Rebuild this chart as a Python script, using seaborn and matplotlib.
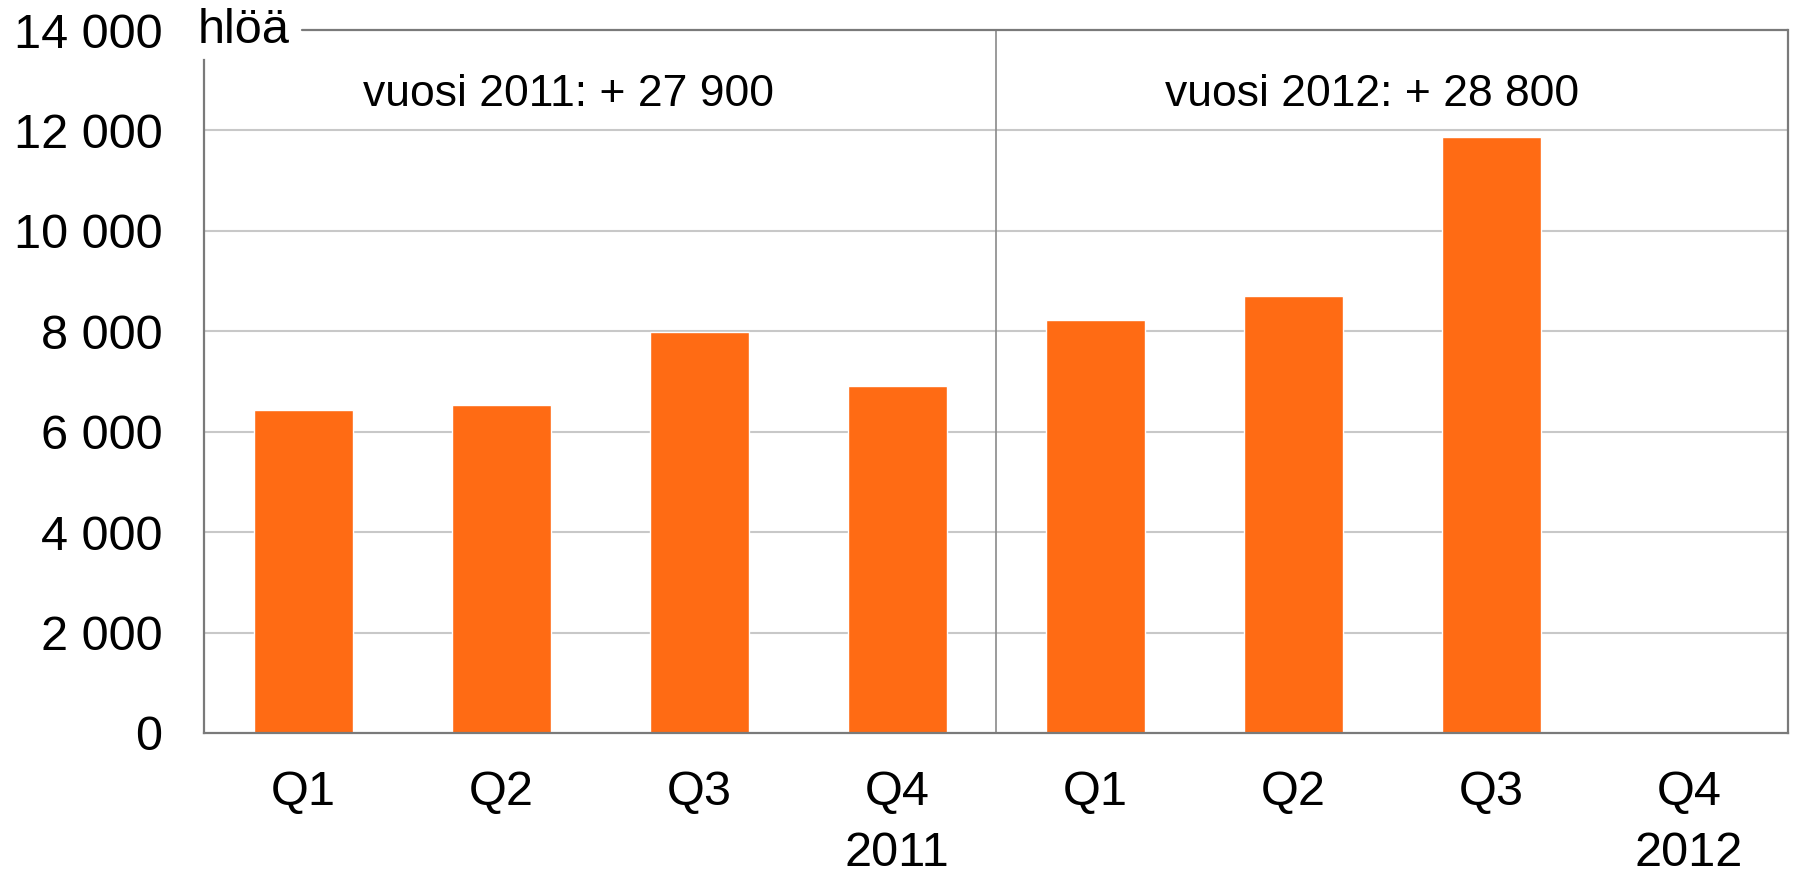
import numpy as np
import pandas as pd
import matplotlib
matplotlib.use("Agg")
import matplotlib.pyplot as plt
import seaborn as sns

# Quarterly change in employed persons (hlöä), 2011–2012
years = ["2011", "2011", "2011", "2011", "2012", "2012", "2012", "2012"]
quarters = ["Q1", "Q2", "Q3", "Q4", "Q1", "Q2", "Q3", "Q4"]
values = [6440, 6540, 7980, 6920, 8220, 8700, 11870, np.nan]
tick_labels = ["Q1", "Q2", "Q3", "Q4\n2011", "Q1", "Q2", "Q3", "Q4\n2012"]
year_notes = ["vuosi 2011: + 27 900", "vuosi 2012: + 28 800"]
y_ticks = [0, 2000, 4000, 6000, 8000, 10000, 12000, 14000]
unit_label = "hlöä"

sns.set_theme(style="white")
plt.rcParams["font.family"] = ["Liberation Sans", "DejaVu Sans"]

keys = [f"{y} {q}" for y, q in zip(years, quarters)]
df = pd.DataFrame({"key": keys, "value": values})

W, H = 1796, 873
fig = plt.figure(figsize=(W / 100, H / 100), dpi=100)
ax = fig.add_axes([204 / W, 1 - 733 / H, (1788 - 204) / W, (733 - 30) / H])

sns.barplot(data=df, x="key", y="value", order=keys, color="#FF6B14",
            saturation=1, width=0.5, ax=ax, zorder=3)

ax.set_xlim(-0.5, len(keys) - 0.5)
ax.set_ylim(0, 14000)
ax.set_xlabel("")
ax.set_ylabel("")

def fmt(v):
    return f"{int(v):,}".replace(",", " ")

ax.set_yticks(y_ticks)
ax.set_yticklabels([fmt(v) for v in y_ticks])
ax.set_xticks(range(len(keys)))
ax.set_xticklabels(tick_labels, linespacing=1.45)
ax.tick_params(axis="y", length=0, pad=30, labelsize=35, labelcolor="black")
ax.tick_params(axis="x", length=0, pad=27, labelsize=35, labelcolor="black")

# gridlines
for v in y_ticks[1:-1]:
    ax.axhline(v, color="#c8c8c8", lw=1.5, zorder=1)

frame = "#7a7a7a"
for side in ["left", "bottom", "right"]:
    ax.spines[side].set_visible(True)
    ax.spines[side].set_color(frame)
    ax.spines[side].set_linewidth(1.6)
ax.spines["top"].set_visible(False)
ax.spines["left"].set_bounds(0, 13400)
ax.spines["bottom"].set_zorder(5)
# top frame line, interrupted by the unit label
ax.axhline(14000, xmin=(302 - 204) / (1788 - 204), xmax=1, color=frame,
           lw=1.6, clip_on=False, zorder=5)

# divider between the years
ax.axvline(3.5, color="#8a8a8a", lw=1.2, zorder=2)

ax.text(-0.5 - (204 - 198) / 198, 13990, unit_label, fontsize=35,
        ha="left", va="center", color="black", clip_on=False)

ax.text(1.34, 12720, year_notes[0], fontsize=32, ha="center", va="center",
        color="black")
ax.text(5.4, 12720, year_notes[1], fontsize=32, ha="center", va="center",
        color="black")

fig.savefig("out.png", dpi=100, facecolor="white")
